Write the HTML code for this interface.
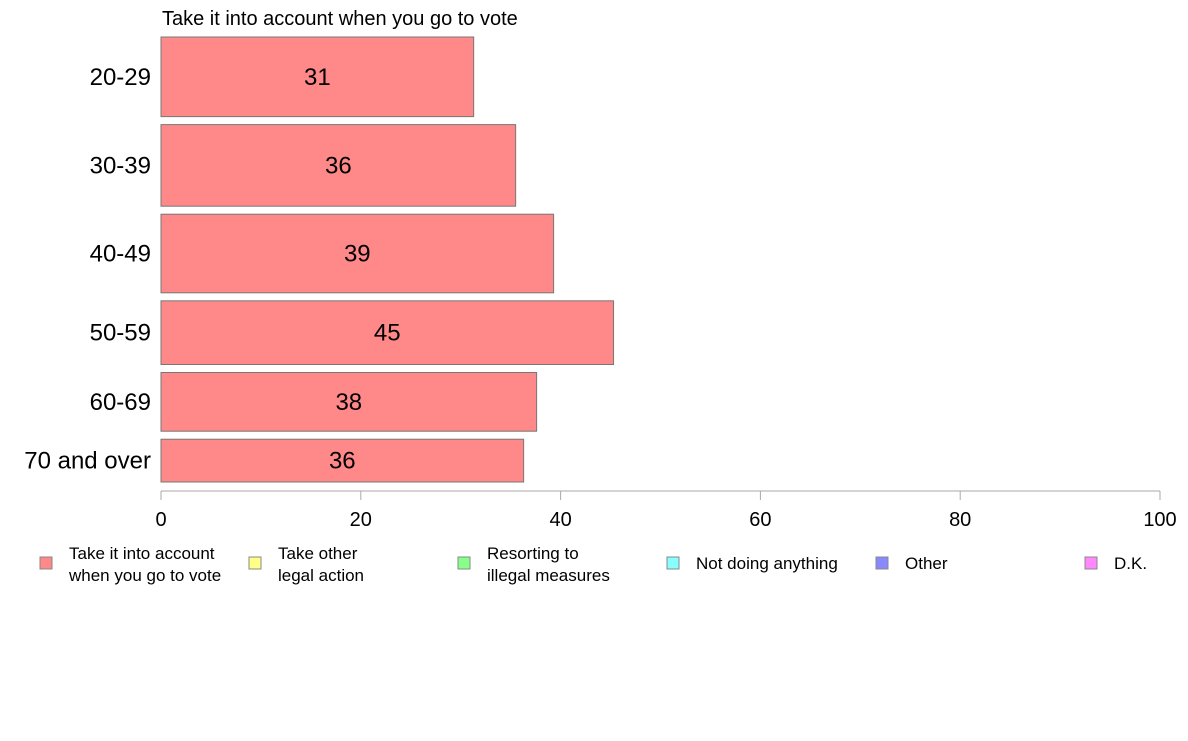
<!DOCTYPE html>
<html><head><meta charset="utf-8"><style>
body{margin:0;background:#fff;font-family:"Liberation Sans",Arial,sans-serif;}
svg text{font-family:"Liberation Sans",Arial,sans-serif;}
</style></head><body>
<svg id="chart" width="1188" height="736" xmlns="http://www.w3.org/2000/svg">
<text x="162" y="25" font-size="20" fill="#000">Take it into account when you go to vote</text>
<g id="bars"></g><g id="axis"></g><g id="legend"></g>
</svg>
<script>
const categories=["20-29","30-39","40-49","50-59","60-69","70 and over"];
const values=[31.3,35.5,39.3,45.3,37.6,36.3];
const weights=[80,82,79,64,59,43];
const ticks=[0,20,40,60,80,100];
const legendLabels=[["Take it into account","when you go to vote"],["Take other","legal action"],["Resorting to","illegal measures"],["Not doing anything"],["Other"],["D.K."]];
const legendColors=["#ff8888","#ffff88","#88ff88","#88ffff","#8888ff","#ff88ff"];
{
const NS="http://www.w3.org/2000/svg";
const x0=161,x1=1160,plotTop=37,plotBottom=482,gap=8;
const xs=v=>x0+(v-0)/(100-0)*(x1-x0);
function mk(t,a,p){const e=document.createElementNS(NS,t);for(const k in a)e.setAttribute(k,a[k]);p.appendChild(e);return e;}
const bars=document.getElementById('bars');
const totalW=weights.reduce((a,b)=>a+b,0);
const avail=plotBottom-plotTop-gap*(weights.length-1);
let y=plotTop;
categories.forEach((c,i)=>{
  const h=weights[i]/totalW*avail;
  const r=mk('rect',{x:xs(0),y:y,width:xs(values[i])-xs(0),height:h,fill:'#ff8888',stroke:'#777','stroke-width':1},bars);
  
  
  const t=mk('text',{x:(xs(0)+xs(values[i]))/2,y:y+h/2+8,'font-size':24,'text-anchor':'middle'},bars);
  t.textContent=Math.round(values[i]);
  
  
  const l=mk('text',{x:151,y:y+h/2+8,'font-size':24,'text-anchor':'end'},bars);
  l.textContent=c;
  
  
  y+=h+gap;
});
const ax=document.getElementById('axis');
const al=mk('line',{x1:x0,x2:x1,y1:491,y2:491,stroke:'#aaa','stroke-width':1},ax);


ticks.forEach(t=>{
  const tl=mk('line',{x1:xs(t),x2:xs(t),y1:491,y2:500,stroke:'#aaa'},ax);
  
  
  const tt=mk('text',{x:xs(t),y:526,'font-size':20,'text-anchor':'middle'},ax);
  tt.textContent=t;
  
  
});
const lg=document.getElementById('legend');
legendLabels.forEach((lab,i)=>{
  const lx=40+i*209;
  const g=mk('g',{},lg);
  
  
  mk('rect',{x:lx,y:557,width:12,height:12,fill:legendColors[i],stroke:'#888'},g);
  lab.forEach((s,j)=>{
    const ty=lab.length===1?569:559+j*22;
    const t=mk('text',{x:lx+29,y:ty,'font-size':17},g);
    t.textContent=s;
  });
});
}
</script>
</body></html>
